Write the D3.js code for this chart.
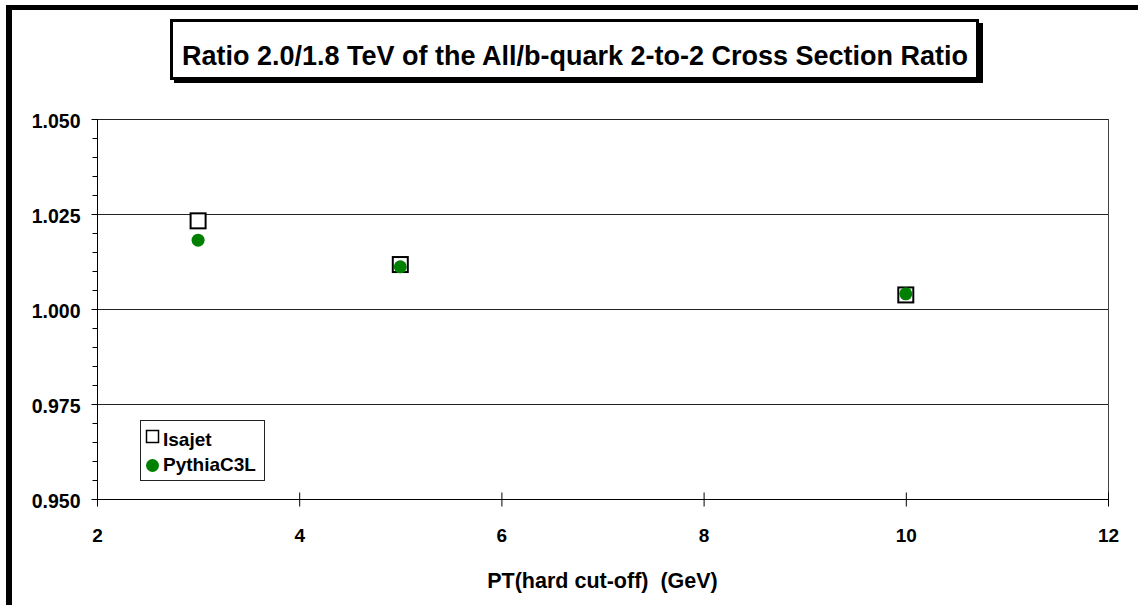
<!DOCTYPE html>
<html>
<head>
<meta charset="utf-8">
<script src="https://cdn.jsdelivr.net/npm/d3@7"></script>
<style>
  html, body { margin: 0; padding: 0; background: #fff; }
  svg { display: block; }
  text { font-family: Arial, "Liberation Sans", sans-serif; font-weight: bold; fill: #000; }
</style>
</head>
<body>
<svg id="chart" width="1138" height="605"></svg>
<script>
// ---- data ----
const ptCut = [3, 5, 10];
const isajet = [1.0232, 1.0117, 1.0037];
const pythia = [1.0181, 1.0111, 1.0040];
const seriesNames = ["Isajet", "PythiaC3L"];
const xTicks = [2, 4, 6, 8, 10, 12];
const yTicks = [0.950, 0.975, 1.000, 1.025, 1.050];
const titleText = "Ratio 2.0/1.8 TeV of the All/b-quark 2-to-2 Cross Section Ratio";
const xTitleText = "PT(hard cut-off)  (GeV)";

const svg = d3.select("#chart");
const W = 1138, H = 605;
const plot = { left: 97, right: 1108, top: 119, bottom: 499 };

// outer chart border (top & left visible)
svg.append("rect").attr("x", 0).attr("y", 0).attr("width", W).attr("height", H).attr("fill", "#fff");
svg.append("line").attr("x1", 6).attr("x2", W).attr("y1", 7.5).attr("y2", 7.5)
  .attr("stroke", "#000").attr("stroke-width", 5);
svg.append("line").attr("x1", 9).attr("x2", 9).attr("y1", 5).attr("y2", H)
  .attr("stroke", "#000").attr("stroke-width", 6);

const x = d3.scaleLinear().domain([2, 12]).range([plot.left, plot.right]);
const y = d3.scaleLinear().domain([0.950, 1.050]).range([plot.bottom, plot.top]);

// gridlines
svg.append("g").selectAll("line").data(yTicks.filter(d => d > 0.95)).join("line")
  .attr("x1", plot.left).attr("x2", plot.right)
  .attr("y1", d => Math.round(y(d)) + 0.5).attr("y2", d => Math.round(y(d)) + 0.5)
  .attr("stroke", "#222").attr("stroke-width", 1);

// plot frame right edge
svg.append("line").attr("x1", plot.right + 0.5).attr("x2", plot.right + 0.5)
  .attr("y1", plot.top).attr("y2", plot.bottom).attr("stroke", "#444");

// y axis with minor ticks
const yMinor = d3.range(0, 21).map(i => 0.950 + i * 0.005);
svg.append("g").attr("transform", `translate(${plot.left + 0.5},0)`)
  .call(d3.axisLeft(y).tickValues(yMinor).tickSize(5).tickFormat(""))
  .call(g => g.select(".domain").remove())
  .call(g => g.selectAll("line").attr("stroke", "#000"));
const yAxis = svg.append("g").attr("transform", `translate(${plot.left + 0.5},0)`)
  .call(d3.axisLeft(y).tickValues(yTicks).tickSize(6).tickPadding(11).tickFormat(d3.format(".3f")));
yAxis.select(".domain").attr("stroke", "#000").attr("d", `M0,${plot.top}V${plot.bottom}`);
yAxis.selectAll("text").style("font-size", "19.5px").style("font-family", "Arial, 'Liberation Sans', sans-serif")
  .style("font-weight", "bold").attr("dy", "0.42em");

// x axis
const xAxis = svg.append("g").attr("transform", `translate(0,${plot.bottom + 0.5})`)
  .call(d3.axisBottom(x).tickValues(xTicks).tickSize(7).tickPadding(22).tickFormat(d3.format("d")));
xAxis.select(".domain").attr("stroke", "#000").attr("d", `M${plot.left},0H${plot.right}`);
xAxis.selectAll(".tick line").attr("y1", -7).attr("y2", 7).attr("stroke", "#000");
xAxis.selectAll("text").style("font-size", "19px").style("font-family", "Arial, 'Liberation Sans', sans-serif")
  .style("font-weight", "bold");

// x axis title
svg.append("text").attr("x", (plot.left + plot.right) / 2).attr("y", 588)
  .attr("text-anchor", "middle").style("font-size", "21.5px").style("white-space", "pre")
  .text(xTitleText);

// data: Isajet squares
const sq = 15;
svg.append("g").selectAll("rect").data(ptCut.map((p, i) => [p, isajet[i]])).join("rect")
  .attr("x", d => x(d[0]) - sq / 2).attr("y", d => y(d[1]) - sq / 2)
  .attr("width", sq).attr("height", sq)
  .attr("fill", "#fff").attr("stroke", "#000").attr("stroke-width", 2);

// data: Pythia circles
svg.append("g").selectAll("circle").data(ptCut.map((p, i) => [p, pythia[i]])).join("circle")
  .attr("cx", d => x(d[0])).attr("cy", d => y(d[1])).attr("r", 6.5)
  .attr("fill", "#008000");

// legend
const lg = svg.append("g");
lg.append("rect").attr("x", 140.5).attr("y", 420.5).attr("width", 124).attr("height", 60)
  .attr("fill", "#fff").attr("stroke", "#222").attr("stroke-width", 1);
lg.append("rect").attr("x", 146.5).attr("y", 430.5).attr("width", 12).attr("height", 12)
  .attr("fill", "#fff").attr("stroke", "#000").attr("stroke-width", 1.5);
lg.append("circle").attr("cx", 152.5).attr("cy", 465.5).attr("r", 6.5).attr("fill", "#008000");
lg.selectAll("text.leg").data(seriesNames).join("text").attr("class", "leg")
  .attr("x", 163).attr("y", (d, i) => 446 + i * 25)
  .style("font-size", "19px").text(d => d);

// title box with shadow
svg.append("rect").attr("x", 174).attr("y", 23).attr("width", 809).attr("height", 60).attr("fill", "#000");
svg.append("rect").attr("x", 171.5).attr("y", 20.5).attr("width", 806).attr("height", 58)
  .attr("fill", "#fff").attr("stroke", "#000").attr("stroke-width", 3);
svg.append("text").attr("x", 575).attr("y", 65).attr("text-anchor", "middle")
  .style("font-size", "27px").text(titleText);
</script>
</body>
</html>
